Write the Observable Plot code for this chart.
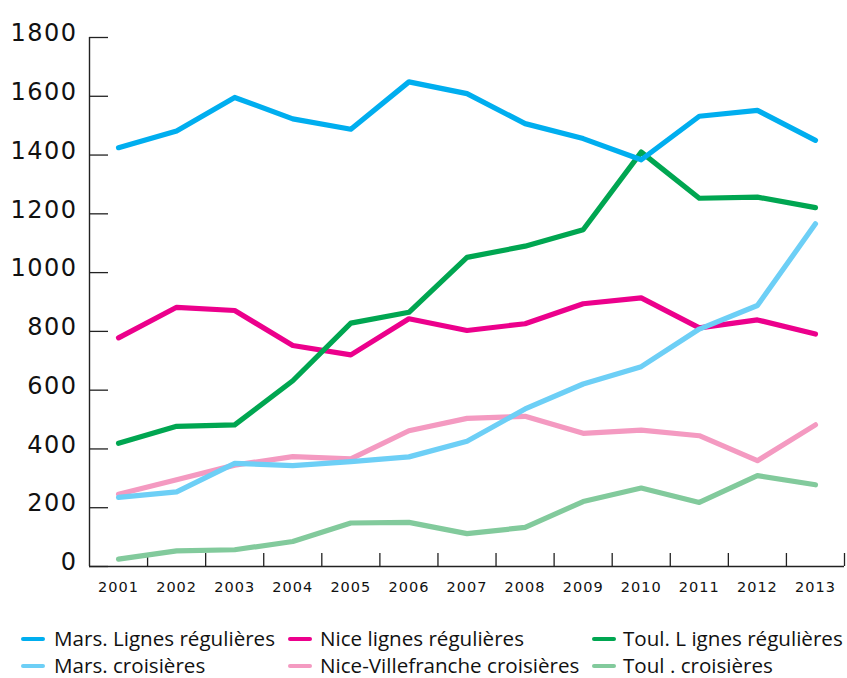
<!DOCTYPE html>
<html>
<head>
<meta charset="utf-8">
<script src="https://cdn.jsdelivr.net/npm/d3@7"></script>
<script src="https://cdn.jsdelivr.net/npm/@observablehq/plot@0.6"></script>
<style>
  html, body { margin: 0; padding: 0; background: #fff; }
  #wrap { position: relative; width: 847px; height: 678px; overflow: hidden; }
  #chart svg { display: block; }
  #chart [aria-label="y-axis tick label"] text { letter-spacing: 1.5px; }
  #chart [aria-label="x-axis tick label"] text { letter-spacing: 1px; }
  .leg { position: absolute; font-family: "Open Sans", "Noto Sans", sans-serif; font-size: 20.6px; color: #111; white-space: nowrap; line-height: 1; }
  .sw { position: absolute; width: 24px; height: 4px; border-radius: 2px; }
</style>
</head>
<body>
<div id="wrap">
  <div id="chart"></div>
  <div id="legend"></div>
</div>
<script>
const years = [2001, 2002, 2003, 2004, 2005, 2006, 2007, 2008, 2009, 2010, 2011, 2012, 2013];
const yTicks = [0, 200, 400, 600, 800, 1000, 1200, 1400, 1600, 1800];
const xBounds = [2001.5, 2002.5, 2003.5, 2004.5, 2005.5, 2006.5, 2007.5, 2008.5, 2009.5, 2010.5, 2011.5, 2012.5, 2013.5];

const marsLignes   = [1425, 1482, 1596, 1523, 1488, 1649, 1609, 1507, 1456, 1384, 1532, 1552, 1450];
const niceLignes   = [778, 882, 871, 752, 720, 843, 803, 826, 894, 914, 812, 839, 791];
const toulLignes   = [419, 477, 482, 632, 828, 865, 1052, 1090, 1146, 1410, 1253, 1257, 1221];
const marsCrois    = [235, 254, 351, 343, 357, 373, 426, 536, 621, 680, 808, 888, 1166];
const niceCrois    = [246, 295, 345, 374, 366, 462, 504, 511, 453, 464, 445, 360, 482];
const toulCrois    = [25, 53, 57, 85, 148, 150, 112, 133, 221, 267, 218, 309, 278];

const seriesNames = ["Mars. Lignes régulières", "Nice lignes régulières", "Toul. L ignes régulières",
                     "Mars. croisières", "Nice-Villefranche croisières", "Toul . croisières"];
const seriesValues = [marsLignes, niceLignes, toulLignes, marsCrois, niceCrois, toulCrois];
const seriesColors = ["#00aeef", "#ec008c", "#00a651", "#6dcff6", "#f49ac1", "#82ca9c"];
const drawOrder = [5, 4, 1, 2, 3, 0];

const W = 847, H = 605, mL = 89, mR = 3, mT = 37, mB = 39;
const frameW = W - mL - mR, frameH = H - mT - mB;

const lineMarks = drawOrder.map(i =>
  Plot.line(years.map((yr, j) => ({year: yr, value: seriesValues[i][j]})), {
    x: "year", y: "value", stroke: seriesColors[i], strokeWidth: 5.2,
    strokeLinecap: "round", strokeLinejoin: "round"
  })
);

const chart = Plot.plot({
  width: W, height: H,
  marginLeft: mL, marginRight: mR, marginTop: mT, marginBottom: mB,
  style: {fontFamily: "DejaVu Sans", color: "#111", background: "#fff"},
  x: {domain: [2000.5, 2013.5]},
  y: {domain: [0, 1800]},
  marks: [
    Plot.ruleX([2000.5], {y1: 0, y2: 1800, stroke: "#222", strokeWidth: 1.4}),
    Plot.ruleY([0], {stroke: "#222", strokeWidth: 1.4}),
    Plot.tickY(yTicks, {y: d => d, stroke: "#222", strokeWidth: 1.3, insetRight: frameW - 19}),
    Plot.tickX(xBounds, {x: d => d, stroke: "#222", strokeWidth: 1.3, insetTop: frameH - 13}),
    Plot.axisY({ticks: yTicks, tickSize: 0, tickPadding: 12, dy: -4, fontSize: 24, label: null, fill: "#111", tickFormat: d => String(d)}),
    Plot.axisX({ticks: years, tickSize: 0, tickPadding: 15, fontSize: 14.5, label: null, fill: "#111", tickFormat: d => String(d)}),
    ...lineMarks
  ]
});
document.getElementById("chart").appendChild(chart);

// legend (HTML below the SVG)
const legend = document.getElementById("legend");
const colX = [{sw: 21, tx: 54}, {sw: 288, tx: 320}, {sw: 592, tx: 623}];
const rowY = [639, 666];
seriesNames.forEach((name, i) => {
  const col = i % 3, row = Math.floor(i / 3);
  const sw = document.createElement("div");
  sw.className = "sw";
  sw.style.left = colX[col].sw + "px";
  sw.style.top = (rowY[row] - 2) + "px";
  sw.style.background = seriesColors[i];
  legend.appendChild(sw);
  const t = document.createElement("div");
  t.className = "leg";
  t.textContent = name;
  t.style.left = colX[col].tx + "px";
  t.style.top = (rowY[row] - 11) + "px";
  legend.appendChild(t);
});
</script>
</body>
</html>
